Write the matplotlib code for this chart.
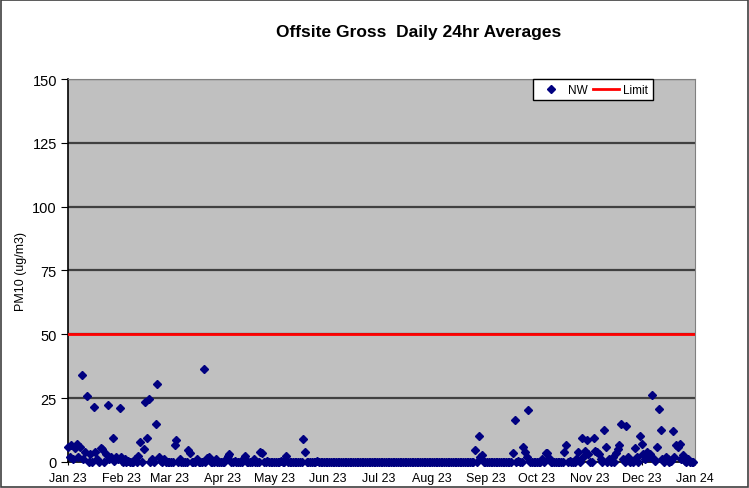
import matplotlib
matplotlib.use("Agg")
import matplotlib.pyplot as plt
import matplotlib.dates as mdates
from matplotlib.lines import Line2D
from matplotlib.patches import Rectangle
import numpy as np
import pandas as pd

TITLE = "Offsite Gross  Daily 24hr Averages"
Y_LABEL = "PM10 (ug/m3)"
START_DATE = "2023-01-01"
LIMIT = 50
Y_TICKS = [0, 25, 50, 75, 100, 125, 150]

# daily NW values, one list per month
JAN = [6, 2, 6.5, 1, 5.5, 7, 2, 6, 34, 1, 4, 26, 0, 3, 0, 21.5, 4, 1, 0, 5.5,
       5, 0, 3, 22.5, 1, 2, 9.5, 0.5, 2, 1, 21]
FEB = [2, 0, 1, 0, 0.5, 0, 0, 0, 1, 0, 2.5, 8, 0, 5, 23.5, 9.5, 24.5, 0, 1, 0,
       15, 30.5, 2, 0.5, 0, 1, 0, 0]
MAR = [0, 0, 0, 6.5, 8.5, 0, 1, 0, 0, 0, 0, 4.5, 3.5, 0, 0, 0, 1, 0, 0, 0,
       36.5, 0, 1.5, 2, 0, 0, 0, 1, 0, 0, 0]
APR = [0, 0, 1, 2.5, 3, 0, 0, 0.5, 0, 0, 0, 0, 1, 2.5, 0, 0, 0, 0, 1, 0,
       0, 0, 4, 3.5, 0, 0, 0.5, 0, 0, 0]
MAY = [0, 0, 0, 0, 0.5, 0, 0, 2.5, 0, 0, 0, 0, 0, 0, 0, 0, 0, 9, 4, 0,
       0, 0, 0, 0, 0, 0.5, 0, 0, 0, 0, 0]
JUN = [0, 0, 0, 0, 0, 0, 0, 0, 0, 0, 0, 0, 0, 0, 0, 0, 0, 0, 0, 0,
       0, 0, 0, 0, 0, 0, 0, 0, 0, 0]
JUL = [0, 0, 0, 0, 0, 0, 0, 0, 0, 0, 0, 0, 0, 0, 0, 0, 0, 0, 0, 0,
       0, 0, 0, 0, 0, 0, 0, 0, 0, 0, 0]
AUG = [0, 0, 0, 0, 0, 0, 0, 0, 0, 0, 0, 0, 0, 0, 0, 0, 0, 0, 0, 0,
       0, 0, 0, 0, 0, 4.5, 0, 10, 2, 2.7, 0]
SEP = [0, 0, 0, 0, 0, 0, 0, 0, 0, 0, 0, 0, 0, 0, 0, 0, 3.5, 16.5, 0, 0.5,
       0, 0, 6, 4, 2, 20.5, 0, 0, 0, 0]
OCT = [0, 0, 0, 1, 0, 3.5, 3.5, 1.5, 0, 0, 0, 0, 0, 0, 0, 0, 4, 6.7, 0, 0.5,
       0, 0, 0, 1, 4, 0, 9.5, 2, 4.4, 8.5, 3]
NOV = [0, 0, 9.3, 4.4, 3.8, 3.1, 1, 0, 12.5, 5.7, 0, 1, 0, 2, 0, 3.5, 5, 6.7, 15, 1,
       0, 14, 2, 0, 0.5, 0, 5.5, 2, 0, 10.3]
DEC = [7, 3, 1, 3.8, 2, 3.1, 26.3, 1, 0.5, 5.7, 20.7, 12.5, 1, 0, 2, 1, 0, 0.5, 12.3, 2,
       6.7, 5.7, 7, 1, 2.7, 0.5, 0, 1, 0, 0, 0]

nw = np.array(JAN + FEB + MAR + APR + MAY + JUN + JUL + AUG + SEP + OCT + NOV + DEC, dtype=float)
dates = pd.date_range(START_DATE, periods=len(nw), freq="D")

plt.rcParams["font.family"] = ["Liberation Sans", "DejaVu Sans"]

fig = plt.figure(figsize=(7.49, 4.89), dpi=100)
ax = fig.add_axes([0.0908, 0.0532, 0.8371, 0.7832])
ax.set_facecolor("#c0c0c0")

x_start = pd.Timestamp(START_DATE)
x_end = pd.Timestamp("2024-01-01")

for yv in Y_TICKS[1:]:
    ax.axhline(yv, color="#404040", lw=1.6, zorder=1)

ax.plot(dates, nw, linestyle="none", marker="D", markersize=3.8,
        color="#000080", zorder=3, clip_on=False)
ax.plot([x_start, x_end], [LIMIT, LIMIT], color="#ff0000", lw=2, zorder=4)

ax.set_xlim(x_start, x_end)
ax.set_ylim(0, 150)
ax.set_yticks(Y_TICKS)
ax.xaxis.set_major_locator(mdates.MonthLocator())
ax.xaxis.set_major_formatter(mdates.DateFormatter("%b %y"))
ax.tick_params(axis="x", direction="inout", length=5, labelsize=9, pad=5)
ax.tick_params(axis="y", direction="out", length=5, labelsize=10.5, pad=3)

for side in ["top", "right"]:
    ax.spines[side].set_color("#808080")
for side in ["left", "bottom"]:
    ax.spines[side].set_color("black")
    ax.spines[side].set_linewidth(1.2)

ax.set_ylabel(Y_LABEL, fontsize=9, labelpad=4)
fig.text(0.559, 0.933, TITLE, ha="center", va="center", fontsize=12.5, fontweight="bold")

handles = [
    Line2D([], [], linestyle="none", marker="D", markersize=3.8, color="#000080"),
    Line2D([], [], color="#ff0000", lw=2),
]
leg = ax.legend(handles, ["NW", "Limit"], ncol=2, loc="upper right",
                bbox_to_anchor=(0.933, 1.0), fontsize=8.5, frameon=True,
                fancybox=False, borderpad=0.4, handlelength=2.2,
                columnspacing=0.4, handletextpad=0.4, borderaxespad=0)
leg.get_frame().set_edgecolor("black")
leg.get_frame().set_linewidth(1.0)
leg.get_frame().set_facecolor("white")
leg.get_frame().set_alpha(1)

fig.patches.append(Rectangle((0.001, 0.002), 0.997, 0.996, transform=fig.transFigure,
                             fill=False, edgecolor="#404040", lw=1.2))

fig.savefig("out.png", dpi=100)
